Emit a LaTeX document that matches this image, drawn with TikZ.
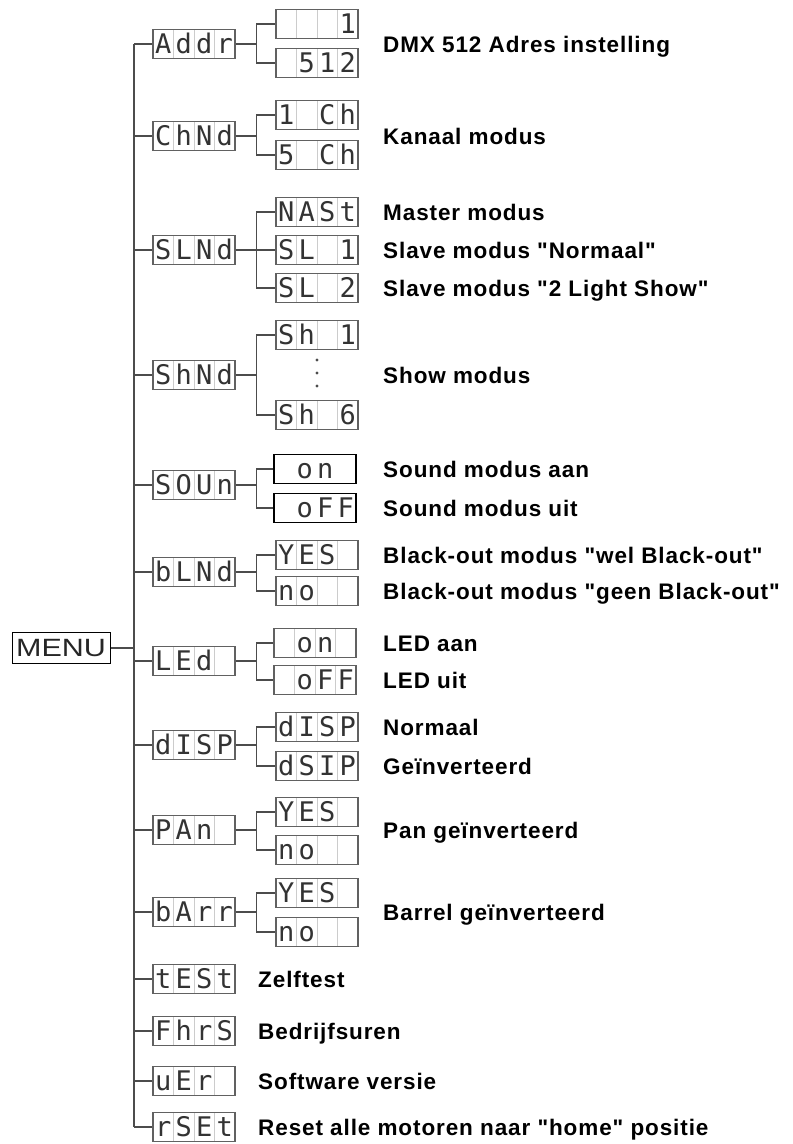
\documentclass[tikz,border=0pt]{standalone}
\usepackage{fontspec}
\setmainfont{Liberation Sans}
\newfontfamily\lcdfont{DejaVu Sans Mono}
\newfontfamily\tagfont[LetterSpace=4]{Liberation Sans}
\usetikzlibrary{positioning}
\newcommand{\lcd}[4]{\makebox[20.5pt]{#1}\makebox[20.5pt]{#2}\makebox[20.5pt]{#3}\makebox[20.5pt]{#4}}

\begin{document}
\begin{tikzpicture}[x=1pt,y=-1pt,
    lcdbox/.style={draw=black!62,line width=1.1pt,fill=white,inner sep=0pt,
      minimum width=82pt,minimum height=29pt,text height=19.5pt,text depth=0pt,
      font=\lcdfont\fontsize{27}{27}\selectfont,text=black!80},
    lcd/.style={lcdbox,path picture={
      \foreach \k in {-1,0,1}
        \draw[black!20,line width=0.8pt] ([xshift=\k*20.5pt]path picture bounding box.north)
          -- ([xshift=\k*20.5pt]path picture bounding box.south);}},
    lcdbold/.style={lcdbox,draw=black,line width=1.6pt},
    menubox/.style={draw=black,line width=1pt,inner sep=0pt,minimum width=98pt,
      minimum height=31pt,font=\fontsize{25}{25}\selectfont,text=black!85},
    tag/.style={anchor=base west,yshift=-8pt,inner sep=0pt,
      font=\tagfont\bfseries\fontsize{22.5}{27}\selectfont},
    wire/.style={black!70,line width=1.1pt},
  ]
  \useasboundingbox (0,0) rectangle (793,1144);

  \node[menubox] (menu) at (61,648) {\scalebox{1.22}[1]{MENU}};
  \coordinate (trunk) at (134,0);

  \node[lcd] (addr) at (194,44)   {\lcd{A}{d}{d}{r}};
  \node[lcd] (chnd) at (194,136)  {\lcd{C}{h}{N}{d}};
  \node[lcd] (slnd) at (194,250)  {\lcd{S}{L}{N}{d}};
  \node[lcd] (shnd) at (194,375)  {\lcd{S}{h}{N}{d}};
  \node[lcd] (soun) at (194,485)  {\lcd{S}{O}{U}{n}};
  \node[lcd] (blnd) at (194,572)  {\lcd{b}{L}{N}{d}};
  \node[lcd] (led)  at (194,661)  {\lcd{L}{E}{d}{}};
  \node[lcd] (disp) at (194,745)  {\lcd{d}{I}{S}{P}};
  \node[lcd] (pan)  at (194,830)  {\lcd{P}{A}{n}{}};
  \node[lcd] (barr) at (194,912)  {\lcd{b}{A}{r}{r}};
  \node[lcd] (test) at (194,979)  {\lcd{t}{E}{S}{t}};
  \node[lcd] (fhrs) at (194,1031) {\lcd{F}{h}{r}{S}};
  \node[lcd] (ver)  at (194,1081) {\lcd{u}{E}{r}{}};
  \node[lcd] (rset) at (194,1127) {\lcd{r}{S}{E}{t}};

  \node[lcd] (addra) at (317,24)  {\lcd{}{}{}{1}};
  \node[lcd] (addrb) at (317,63)  {\lcd{}{5}{1}{2}};
  \node[lcd] (chnda) at (317,115) {\lcd{1}{}{C}{h}};
  \node[lcd] (chndb) at (317,155) {\lcd{5}{}{C}{h}};
  \node[lcd] (slnda) at (317,212) {\lcd{N}{A}{S}{t}};
  \node[lcd] (slndb) at (317,250) {\lcd{S}{L}{}{1}};
  \node[lcd] (slndc) at (317,288) {\lcd{S}{L}{}{2}};
  \node[lcd] (shnda) at (317,335) {\lcd{S}{h}{}{1}};
  \node[lcd] (shndb) at (317,415) {\lcd{S}{h}{}{6}};
  \node[lcdbold] (souna) at (315,469) {\lcd{}{o}{n}{}};
  \node[lcdbold] (sounb) at (315,508) {\lcd{}{o}{F}{F}};
  \node[lcd] (blnda) at (317,555) {\lcd{Y}{E}{S}{}};
  \node[lcd] (blndb) at (317,591) {\lcd{n}{o}{}{}};
  \node[lcd] (leda)  at (315,643) {\lcd{}{o}{n}{}};
  \node[lcd] (ledb)  at (315,680) {\lcd{}{o}{F}{F}};
  \node[lcd] (dispa) at (317,727) {\lcd{d}{I}{S}{P}};
  \node[lcd] (dispb) at (317,766) {\lcd{d}{S}{I}{P}};
  \node[lcd] (pana)  at (317,812) {\lcd{Y}{E}{S}{}};
  \node[lcd] (panb)  at (317,850) {\lcd{n}{o}{}{}};
  \node[lcd] (barra) at (317,893) {\lcd{Y}{E}{S}{}};
  \node[lcd] (barrb) at (317,932) {\lcd{n}{o}{}{}};

  \foreach \y in {360,373,386}
    \fill[black!70] (317,\y) circle (1.7pt);

  \draw[wire] (menu.east) -- (menu -| trunk);
  \draw[wire] (trunk |- addr) -- (trunk |- rset);
  \foreach \n in {addr,chnd,slnd,shnd,soun,blnd,led,disp,pan,barr,test,fhrs,ver,rset}
    \draw[wire] (trunk |- \n) -- (\n.west);
  \foreach \p/\c in {addr/addra,addr/addrb,chnd/chnda,chnd/chndb,slnd/slnda,slnd/slndb,
      slnd/slndc,shnd/shnda,shnd/shndb,soun/souna,soun/sounb,blnd/blnda,blnd/blndb,
      led/leda,led/ledb,disp/dispa,disp/dispb,pan/pana,pan/panb,barr/barra,barr/barrb}
    \draw[wire] (\p.east) -- ([xshift=21pt]\p.east) |- (\c.west);

  \node[tag] (taddr) at (383,44)   {DMX 512 Adres instelling};
  \node[tag] (tchnd) at (383,136)  {Kanaal modus};
  \node[tag] (tslna) at (383,212)  {Master modus};
  \node[tag] (tslnb) at (383,250)  {Slave modus "Normaal"};
  \node[tag] (tslnc) at (383,288)  {Slave modus "2 Light Show"};
  \node[tag] (tshnd) at (383,375)  {Show modus};
  \node[tag] (tsona) at (383,469)  {Sound modus aan};
  \node[tag] (tsonb) at (383,508)  {Sound modus uit};
  \node[tag] (tblna) at (383,555)  {Black-out modus "wel Black-out"};
  \node[tag] (tblnb) at (383,591)  {Black-out modus "geen Black-out"};
  \node[tag] (tleda) at (383,643)  {LED aan};
  \node[tag] (tledb) at (383,680)  {LED uit};
  \node[tag] (tdisa) at (383,727)  {Normaal};
  \node[tag] (tdisb) at (383,766)  {Geïnverteerd};
  \node[tag] (tpan)  at (383,830)  {Pan geïnverteerd};
  \node[tag] (tbarr) at (383,912)  {Barrel geïnverteerd};
  \node[tag] (ttest) at (258,979)  {Zelftest};
  \node[tag] (tfhrs) at (258,1031) {Bedrijfsuren};
  \node[tag] (tver)  at (258,1081) {Software versie};
  \node[tag] (trset) at (258,1127) {Reset alle motoren naar "home" positie};
\end{tikzpicture}
\end{document}
